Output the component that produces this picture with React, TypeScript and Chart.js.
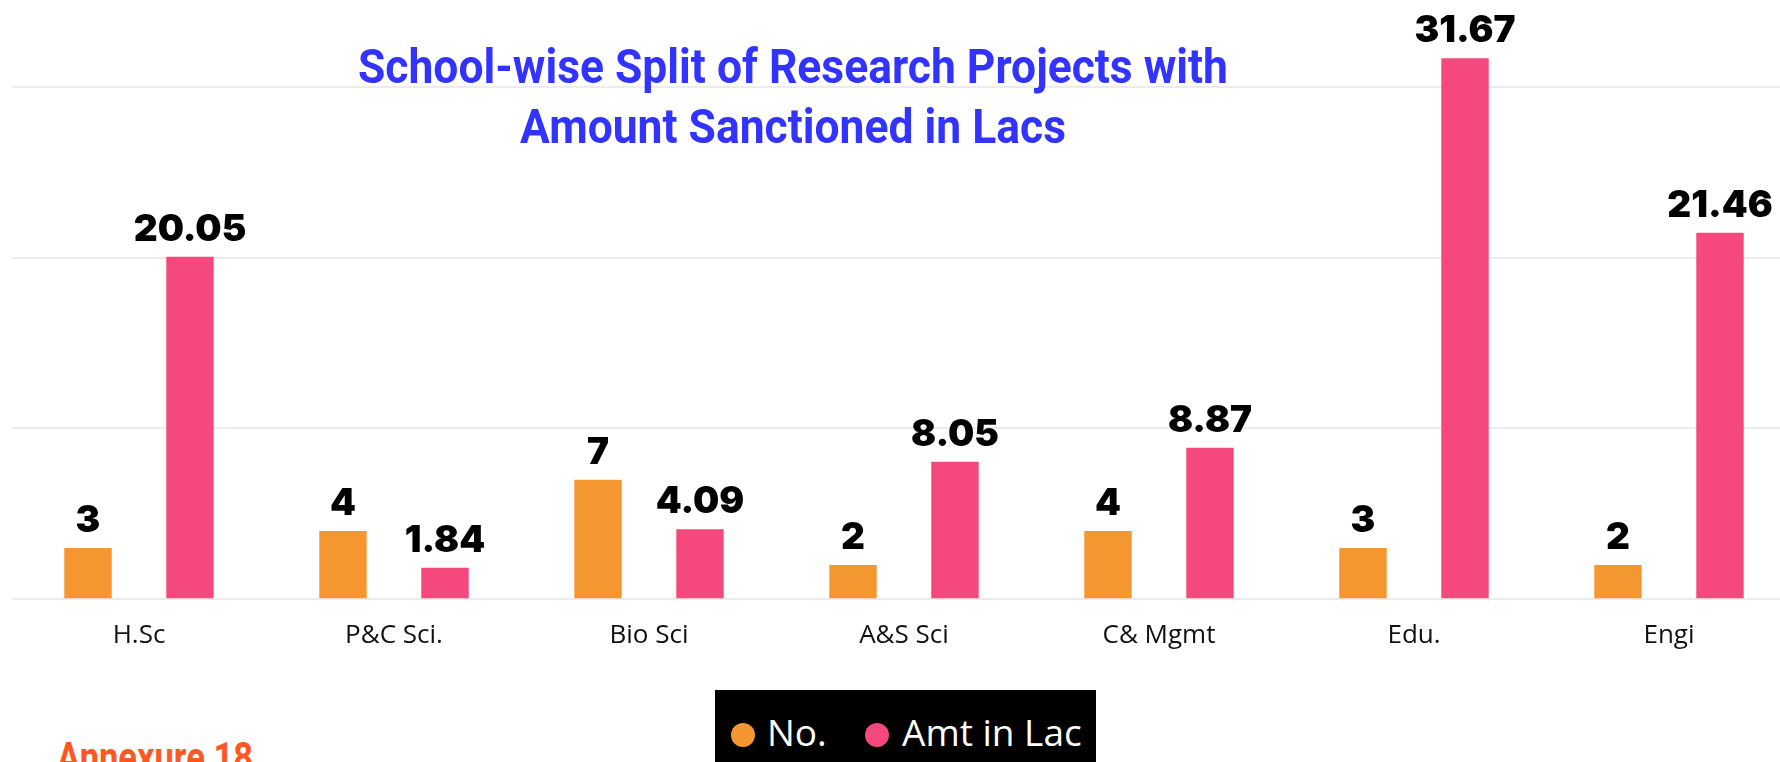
import React, { useEffect, useRef, useState } from "react";
import { Chart, registerables } from "chart.js";

Chart.register(...registerables);

const categories = ["H.Sc", "P&C Sci.", "Bio Sci", "A&S Sci", "C& Mgmt", "Edu.", "Engi"];
const countValues = [3, 4, 7, 2, 4, 3, 2];
const amountValues = [20.05, 1.84, 4.09, 8.05, 8.87, 31.67, 21.46];
const seriesNames = ["No.", "Amt in Lac"];
const seriesColors = ["#F59731", "#F5497D"];
const titleLines = ["School-wise Split of Research Projects with", "Amount Sanctioned in Lacs"];
const footerText = "Annexure 18";

const dataLabelPlugin = {
  id: "dataLabels",
  afterDatasetsDraw(chart: any) {
    const ctx = chart.ctx;
    ctx.save();
    ctx.font = "900 37px Inter";
    ctx.fillStyle = "#000";
    ctx.textAlign = "center";
    ctx.textBaseline = "alphabetic";
    chart.data.datasets.forEach((ds: any, di: number) => {
      const meta = chart.getDatasetMeta(di);
      meta.data.forEach((bar: any, i: number) => {
        const v = ds.data[i];
        const txt = di === 1 ? v.toFixed(2) : String(v);
        ctx.fillText(txt, bar.x, bar.y - 16);
      });
    });
    ctx.restore();
  },
};

function measure(text: string, font: string) {
  const c = document.createElement("canvas");
  const ctx = c.getContext("2d")!;
  ctx.font = font;
  return ctx.measureText(text).width;
}

export default function App() {
  const canvasRef = useRef<HTMLCanvasElement>(null);
  const [scales, setScales] = useState({ title: 0.87, foot: 0.87 });

  useEffect(() => {
    const t = measure(titleLines[0], "bold 49px Roboto");
    const f = measure(footerText, "bold 42px Roboto");
    setScales({ title: 870 / t, foot: 196 / f });
  }, []);

  useEffect(() => {
    const chart = new Chart(canvasRef.current!, {
      type: "bar",
      data: {
        labels: categories,
        datasets: [
          {
            label: seriesNames[0],
            data: countValues,
            backgroundColor: seriesColors[0],
            categoryPercentage: 0.8,
            barPercentage: 0.465,
          },
          {
            label: seriesNames[1],
            data: amountValues,
            backgroundColor: seriesColors[1],
            categoryPercentage: 0.8,
            barPercentage: 0.465,
          },
        ],
      },
      options: {
        animation: false,
        responsive: true,
        maintainAspectRatio: false,
        layout: { padding: { left: 11.5, right: 3.5, top: 1.5, bottom: 0 } },
        plugins: { legend: { display: false }, title: { display: false }, tooltip: { enabled: false } },
        scales: {
          x: {
            grid: { display: false },
            border: { display: false },
            ticks: {
              color: "#111",
              font: { family: "'Open Sans'", size: 26 },
              padding: 12.3,
              maxRotation: 0,
              autoSkip: false,
            },
          },
          y: {
            min: 0,
            max: 35,
            ticks: { display: false, stepSize: 10 },
            grid: {
              drawTicks: false,
              lineWidth: 2,
              color: (c: any) => (c.tick && c.tick.value % 10 === 0 ? "#ececec" : "rgba(0,0,0,0)"),
            },
            border: { display: false },
          },
        },
      },
      plugins: [dataLabelPlugin],
    });
    return () => chart.destroy();
  }, []);

  const titleStyle = (top: number): React.CSSProperties => ({
    position: "absolute",
    left: 793 - 1000,
    width: 2000,
    top,
    textAlign: "center",
    font: "bold 49px Roboto",
    lineHeight: "49px",
    color: "#3333FF",
    whiteSpace: "nowrap",
    transform: `scaleX(${scales.title})`,
    transformOrigin: "50% 50%",
  });

  const legendText = (left: number, text: string) => (
    <div
      style={{
        position: "absolute",
        left,
        top: 712.8,
        font: "37px 'Open Sans'",
        lineHeight: "37px",
        color: "#fff",
        whiteSpace: "nowrap",
      }}
    >
      {text}
    </div>
  );

  const dot = (cx: number, color: string) => (
    <div
      style={{
        position: "absolute",
        left: cx - 12,
        top: 734.7 - 12,
        width: 24,
        height: 24,
        borderRadius: "50%",
        background: color,
      }}
    />
  );

  return (
    <div style={{ position: "fixed", left: 0, top: 0, width: 1780, height: 762, overflow: "hidden", background: "#fff" }}>
      <div style={{ position: "absolute", left: 0, top: 0, width: 1800, height: 663 }}>
        <canvas ref={canvasRef} />
      </div>
      <div style={titleStyle(42)}>{titleLines[0]}</div>
      <div style={titleStyle(102)}>{titleLines[1]}</div>
      <div style={{ position: "absolute", left: 715, top: 690, width: 381, height: 90, background: "#000" }} />
      {dot(742.5, seriesColors[0])}
      {legendText(767, seriesNames[0])}
      {dot(876.6, seriesColors[1])}
      {legendText(902, seriesNames[1])}
      <div
        style={{
          position: "absolute",
          left: 57,
          top: 737,
          font: "bold 42px Roboto",
          lineHeight: "42px",
          color: "#FF5722",
          whiteSpace: "nowrap",
          transform: `scaleX(${scales.foot})`,
          transformOrigin: "0 50%",
        }}
      >
        {footerText}
      </div>
    </div>
  );
}
